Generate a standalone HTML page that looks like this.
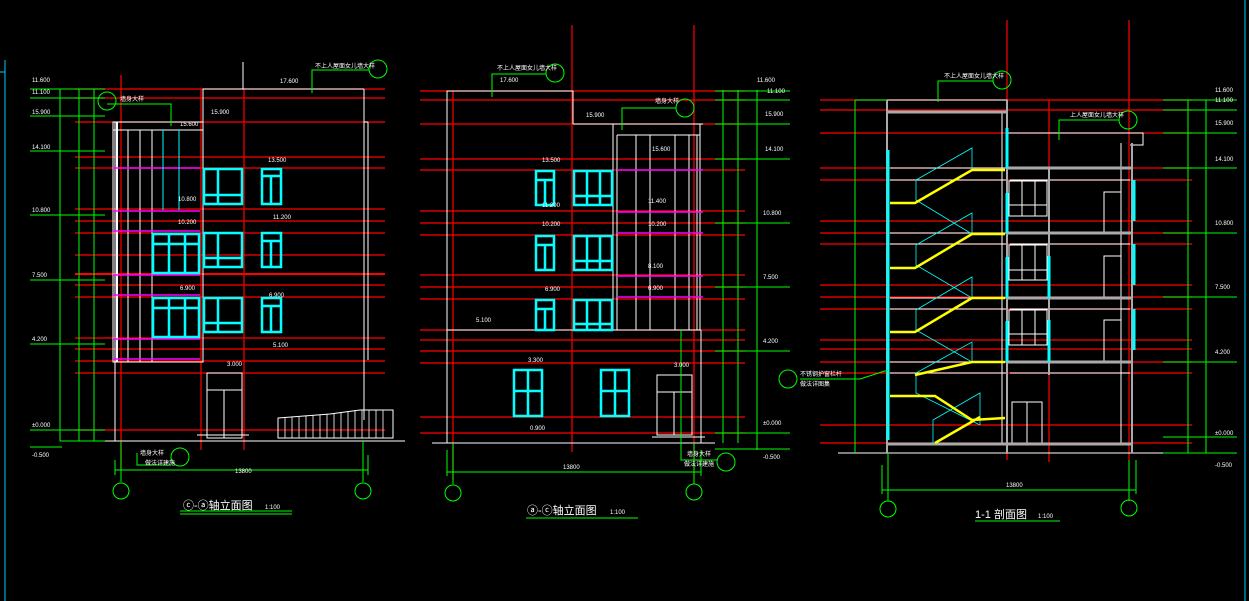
<!DOCTYPE html>
<html><head><meta charset="utf-8"><style>
html,body{margin:0;padding:0;background:#000;width:1249px;height:601px;overflow:hidden}
svg{display:block}
text{font-family:"Liberation Sans","Noto Sans CJK SC",sans-serif;}
</style></head><body>
<svg width="1249" height="601" viewBox="0 0 1249 601" xmlns="http://www.w3.org/2000/svg">
<rect width="1249" height="601" fill="#000"/>
<!-- frame edges -->
<line x1="5" y1="60" x2="5" y2="601" stroke="#0cf" stroke-width="1"/>
<line x1="0" y1="72" x2="5" y2="72" stroke="#0cf"/>
<line x1="1245" y1="0" x2="1245" y2="601" stroke="#0cf" stroke-width="1"/>

<!-- ================= LEFT ELEVATION ================= -->
<g stroke="#f00" stroke-width="1.2">
<line x1="75" y1="89" x2="385" y2="89"/><line x1="75" y1="98" x2="385" y2="98"/>
<line x1="75" y1="122" x2="385" y2="122"/><line x1="75" y1="157" x2="385" y2="157"/>
<line x1="75" y1="168" x2="385" y2="168"/><line x1="75" y1="209" x2="385" y2="209"/>
<line x1="75" y1="221" x2="385" y2="221"/><line x1="75" y1="233" x2="385" y2="233"/>
<line x1="75" y1="255" x2="385" y2="255"/><line x1="75" y1="274" x2="385" y2="274" stroke-width="2"/>
<line x1="75" y1="285" x2="385" y2="285"/><line x1="75" y1="297" x2="385" y2="297"/>
<line x1="75" y1="338" x2="385" y2="338"/><line x1="75" y1="349" x2="385" y2="349"/>
<line x1="75" y1="361" x2="385" y2="361"/><line x1="75" y1="373" x2="385" y2="373"/>
<line x1="75" y1="430" x2="385" y2="430"/>
<line x1="121" y1="75" x2="121" y2="470"/><line x1="201" y1="89" x2="201" y2="450"/>
<line x1="244" y1="89" x2="244" y2="450"/>
</g>
<g stroke="#fff" stroke-width="1" fill="none">
<polyline points="203,122 203,89 243,89 243,62"/>
<line x1="243" y1="89" x2="364" y2="89"/>
<line x1="364" y1="89" x2="364" y2="420"/>
<line x1="364" y1="122" x2="368" y2="122"/><line x1="368" y1="122" x2="368" y2="360"/>
<rect x="113" y="122" width="90" height="240"/>
<line x1="117" y1="122" x2="117" y2="362" stroke-width="2"/>
<line x1="128" y1="130" x2="128" y2="362"/><line x1="140" y1="130" x2="140" y2="362"/>
<line x1="152" y1="130" x2="152" y2="362"/><line x1="113" y1="130" x2="203" y2="130"/>
<line x1="115" y1="122" x2="115" y2="441"/>
<line x1="105" y1="441" x2="405" y2="441"/>
<rect x="207" y="373" width="35" height="65"/>
<line x1="207" y1="390" x2="242" y2="390"/><line x1="224" y1="390" x2="224" y2="438"/>
<line x1="197" y1="435" x2="249" y2="435"/>
<polygon points="278,418 330,414 360,410 393,410 393,438 278,438"/>
</g>
<g stroke="#fff" stroke-width="0.8">
<line x1="285" y1="418" x2="285" y2="438"/><line x1="292" y1="417" x2="292" y2="438"/><line x1="299" y1="417" x2="299" y2="438"/>
<line x1="306" y1="416" x2="306" y2="438"/><line x1="313" y1="415" x2="313" y2="438"/><line x1="320" y1="415" x2="320" y2="438"/>
<line x1="327" y1="414" x2="327" y2="438"/><line x1="334" y1="413" x2="334" y2="438"/><line x1="341" y1="412" x2="341" y2="438"/>
<line x1="348" y1="411" x2="348" y2="438"/><line x1="355" y1="410" x2="355" y2="438"/><line x1="362" y1="410" x2="362" y2="438"/>
<line x1="369" y1="410" x2="369" y2="438"/><line x1="376" y1="410" x2="376" y2="438"/><line x1="383" y1="410" x2="383" y2="438"/>
</g>
<g stroke="#f0f" stroke-width="1.5">
<line x1="113" y1="168" x2="200" y2="168"/><line x1="113" y1="211" x2="200" y2="211"/>
<line x1="113" y1="231" x2="200" y2="231"/><line x1="113" y1="275" x2="200" y2="275"/>
<line x1="113" y1="295" x2="200" y2="295"/><line x1="113" y1="339" x2="200" y2="339"/>
<line x1="113" y1="359" x2="200" y2="359"/>
</g>
<g stroke="#0ff" stroke-width="2.5" fill="none">
<rect x="204" y="169" width="38" height="35"/><line x1="218" y1="169" x2="218" y2="204"/><line x1="204" y1="195" x2="242" y2="195"/>
<rect x="262" y="169" width="19" height="35"/><line x1="271" y1="176" x2="271" y2="204"/><line x1="262" y1="176" x2="281" y2="176"/>
<rect x="204" y="233" width="38" height="34"/><line x1="218" y1="233" x2="218" y2="267"/><line x1="204" y1="258" x2="242" y2="258"/>
<rect x="262" y="233" width="19" height="34"/><line x1="271" y1="241" x2="271" y2="267"/><line x1="262" y1="241" x2="281" y2="241"/>
<rect x="153" y="234" width="46" height="39"/><line x1="169" y1="234" x2="169" y2="273"/><line x1="185" y1="234" x2="185" y2="273"/><line x1="153" y1="244" x2="199" y2="244"/>
<rect x="204" y="298" width="38" height="34"/><line x1="218" y1="298" x2="218" y2="332"/><line x1="204" y1="323" x2="242" y2="323"/>
<rect x="262" y="298" width="19" height="34"/><line x1="271" y1="306" x2="271" y2="332"/><line x1="262" y1="306" x2="281" y2="306"/>
<rect x="153" y="298" width="46" height="39"/><line x1="169" y1="298" x2="169" y2="337"/><line x1="185" y1="298" x2="185" y2="337"/><line x1="153" y1="308" x2="199" y2="308"/>
<line x1="163" y1="130" x2="163" y2="210" stroke-width="1"/><line x1="179" y1="130" x2="179" y2="210" stroke-width="1"/>
</g>
<g stroke="#0f0" stroke-width="1" fill="none">
<line x1="60" y1="89" x2="60" y2="441"/><line x1="79" y1="89" x2="79" y2="441"/><line x1="94" y1="89" x2="94" y2="441"/>
<line x1="30" y1="89" x2="105" y2="89"/><line x1="30" y1="98" x2="105" y2="98"/><line x1="30" y1="116" x2="105" y2="116"/>
<line x1="30" y1="151" x2="105" y2="151"/><line x1="30" y1="215" x2="105" y2="215"/><line x1="30" y1="280" x2="105" y2="280"/>
<line x1="30" y1="344" x2="105" y2="344"/><line x1="30" y1="430" x2="105" y2="430"/><line x1="30" y1="447" x2="62" y2="447"/>
<line x1="60" y1="441" x2="105" y2="441"/>
<line x1="115" y1="470" x2="368" y2="470"/><line x1="115" y1="460" x2="115" y2="475"/><line x1="368" y1="455" x2="368" y2="475"/>
<line x1="121" y1="441" x2="121" y2="482"/><line x1="363" y1="441" x2="363" y2="482"/>
<circle cx="121" cy="491" r="8"/><circle cx="363" cy="491" r="8"/>
<circle cx="107" cy="101" r="9"/><polyline points="107,104 171,104 171,126"/>
<circle cx="180" cy="457" r="9"/><polyline points="137,453 137,465 171,465"/>
<circle cx="378" cy="69" r="9"/><polyline points="312,93 312,70 369,70"/>
<line x1="180" y1="514" x2="292" y2="514"/><line x1="180" y1="511" x2="292" y2="511"/>
</g>
<g fill="#fff" font-size="6">
<text x="32" y="82">11.600</text><text x="32" y="94">11.100</text><text x="32" y="114">15.900</text><text x="32" y="149">14.100</text>
<text x="32" y="212">10.800</text><text x="32" y="277">7.500</text><text x="32" y="341">4.200</text><text x="32" y="427">±0.000</text><text x="32" y="457">-0.500</text>
<text x="280" y="83">17.600</text><text x="211" y="114">15.900</text><text x="180" y="126">15.600</text><text x="268" y="162">13.500</text>
<text x="178" y="201">10.800</text><text x="273" y="219">11.200</text><text x="178" y="224">10.200</text><text x="269" y="297">6.900</text>
<text x="180" y="290">6.900</text><text x="273" y="347">5.100</text><text x="227" y="366">3.000</text><text x="235" y="473">13800</text>
<text x="315" y="68">不上人屋面女儿墙大样</text><text x="120" y="101">墙身大样</text><text x="140" y="455">墙身大样</text><text x="145" y="465">做法详建施</text>
</g>
<g fill="#fff" font-size="11"><text x="183" y="509">ⓒ-ⓐ轴立面图</text><text x="265" y="509" font-size="6">1:100</text></g>

<!-- ================= MIDDLE ELEVATION ================= -->
<g stroke="#f00" stroke-width="1.2">
<line x1="420" y1="91" x2="745" y2="91"/><line x1="420" y1="100" x2="745" y2="100"/><line x1="420" y1="124" x2="745" y2="124"/>
<line x1="420" y1="159" x2="745" y2="159"/><line x1="420" y1="170" x2="745" y2="170"/><line x1="420" y1="211" x2="745" y2="211"/>
<line x1="420" y1="223" x2="745" y2="223"/><line x1="420" y1="235" x2="745" y2="235"/><line x1="420" y1="275" x2="745" y2="275"/>
<line x1="420" y1="287" x2="745" y2="287"/><line x1="420" y1="299" x2="745" y2="299"/><line x1="420" y1="330" x2="745" y2="330"/>
<line x1="420" y1="340" x2="745" y2="340"/><line x1="420" y1="351" x2="745" y2="351"/><line x1="420" y1="363" x2="745" y2="363"/>
<line x1="420" y1="417" x2="745" y2="417"/><line x1="420" y1="433" x2="745" y2="433"/>
<line x1="572" y1="25" x2="572" y2="452"/><line x1="694" y1="25" x2="694" y2="470"/><line x1="453" y1="91" x2="453" y2="480"/>
</g>
<g stroke="#fff" stroke-width="1" fill="none">
<polyline points="447,443 447,91 573,91 573,124"/>
<line x1="573" y1="124" x2="703" y2="124"/>
<rect x="613" y="124" width="87" height="206"/>
<line x1="617" y1="135" x2="700" y2="135"/><line x1="617" y1="135" x2="617" y2="330"/>
<line x1="636" y1="135" x2="636" y2="330"/><line x1="650" y1="135" x2="650" y2="330"/><line x1="675" y1="135" x2="675" y2="330"/>
<line x1="689" y1="135" x2="689" y2="330"/><line x1="697" y1="135" x2="697" y2="330"/>
<line x1="447" y1="330" x2="701" y2="330"/><line x1="701" y1="330" x2="701" y2="443"/>
<line x1="432" y1="443" x2="715" y2="443"/>
<rect x="657" y="375" width="35" height="60"/><line x1="657" y1="392" x2="692" y2="392"/><line x1="674" y1="392" x2="674" y2="435"/>
<line x1="652" y1="437" x2="705" y2="437"/>
</g>
<g stroke="#f0f" stroke-width="1.5">
<line x1="617" y1="170" x2="703" y2="170"/><line x1="617" y1="212" x2="703" y2="212"/><line x1="617" y1="233" x2="703" y2="233"/>
<line x1="617" y1="276" x2="703" y2="276"/><line x1="617" y1="297" x2="703" y2="297"/>
</g>
<g stroke="#0ff" stroke-width="2.5" fill="none">
<rect x="536" y="171" width="18" height="34"/><line x1="545" y1="180" x2="545" y2="205"/><line x1="536" y1="180" x2="554" y2="180"/>
<rect x="574" y="171" width="38" height="34"/><line x1="587" y1="171" x2="587" y2="205"/><line x1="600" y1="171" x2="600" y2="205"/><line x1="574" y1="196" x2="612" y2="196"/>
<rect x="536" y="236" width="18" height="34"/><line x1="545" y1="245" x2="545" y2="270"/><line x1="536" y1="245" x2="554" y2="245"/>
<rect x="574" y="236" width="38" height="34"/><line x1="587" y1="236" x2="587" y2="270"/><line x1="600" y1="236" x2="600" y2="270"/><line x1="574" y1="261" x2="612" y2="261"/>
<rect x="536" y="300" width="18" height="30"/><line x1="545" y1="309" x2="545" y2="330"/><line x1="536" y1="309" x2="554" y2="309"/>
<rect x="574" y="300" width="38" height="30"/><line x1="587" y1="300" x2="587" y2="330"/><line x1="600" y1="300" x2="600" y2="330"/><line x1="574" y1="324" x2="612" y2="324"/>
<rect x="514" y="370" width="28" height="46"/><line x1="528" y1="370" x2="528" y2="416"/><line x1="514" y1="391" x2="542" y2="391"/>
<rect x="601" y="370" width="28" height="46"/><line x1="615" y1="370" x2="615" y2="416"/><line x1="601" y1="391" x2="629" y2="391"/>
</g>
<g stroke="#0f0" stroke-width="1" fill="none">
<line x1="723" y1="90" x2="723" y2="443"/><line x1="738" y1="90" x2="738" y2="443"/><line x1="757" y1="90" x2="757" y2="450"/>
<line x1="715" y1="91" x2="790" y2="91"/><line x1="715" y1="100" x2="790" y2="100"/><line x1="715" y1="124" x2="790" y2="124"/>
<line x1="715" y1="159" x2="790" y2="159"/><line x1="715" y1="223" x2="790" y2="223"/><line x1="715" y1="287" x2="790" y2="287"/>
<line x1="715" y1="351" x2="790" y2="351"/><line x1="715" y1="433" x2="790" y2="433"/><line x1="715" y1="449" x2="790" y2="449"/>
<line x1="447" y1="472" x2="701" y2="472"/><line x1="447" y1="450" x2="447" y2="476"/><line x1="701" y1="450" x2="701" y2="476"/>
<line x1="453" y1="443" x2="453" y2="484"/><line x1="694" y1="443" x2="694" y2="484"/>
<circle cx="453" cy="493" r="8"/><circle cx="694" cy="492" r="8"/>
<circle cx="555" cy="73" r="9"/><polyline points="492,97 492,74 546,74"/>
<circle cx="685" cy="108" r="9"/><polyline points="622,130 622,108 676,108"/>
<circle cx="726" cy="462" r="9"/><polyline points="681,330 681,460 717,460"/>
<circle cx="788" cy="379" r="9"/>
<line x1="526" y1="518" x2="638" y2="518"/>
</g>
<g fill="#fff" font-size="6">
<text x="757" y="82">11.600</text><text x="767" y="93">11.100</text><text x="765" y="116">15.900</text><text x="765" y="151">14.100</text>
<text x="763" y="215">10.800</text><text x="763" y="279">7.500</text><text x="763" y="343">4.200</text><text x="763" y="425">±0.000</text><text x="763" y="459">-0.500</text>
<text x="500" y="82">17.600</text><text x="586" y="117">15.900</text><text x="652" y="151">15.600</text><text x="542" y="162">13.500</text>
<text x="648" y="203">11.400</text><text x="542" y="207">11.200</text><text x="648" y="226">10.200</text><text x="542" y="226">10.200</text>
<text x="648" y="268">8.100</text><text x="648" y="290">6.900</text><text x="545" y="291">6.900</text><text x="476" y="322">5.100</text>
<text x="528" y="362">3.300</text><text x="674" y="367">3.000</text><text x="530" y="430">0.900</text><text x="563" y="469">13800</text>
<text x="497" y="70">不上人屋面女儿墙大样</text><text x="655" y="103">墙身大样</text><text x="687" y="456">墙身大样</text><text x="684" y="466">做法详建施</text>
</g>
<g fill="#fff" font-size="11"><text x="527" y="514">ⓐ-ⓒ轴立面图</text><text x="610" y="514" font-size="6">1:100</text></g>

<!-- ================= SECTION ================= -->
<g stroke="#f00" stroke-width="1.2">
<line x1="820" y1="100" x2="1192" y2="100"/><line x1="820" y1="110" x2="1192" y2="110"/><line x1="820" y1="133" x2="1192" y2="133"/>
<line x1="820" y1="168" x2="1192" y2="168"/><line x1="820" y1="180" x2="1192" y2="180"/><line x1="820" y1="221" x2="1192" y2="221"/>
<line x1="820" y1="233" x2="1192" y2="233"/><line x1="820" y1="244" x2="1192" y2="244"/><line x1="820" y1="285" x2="1192" y2="285"/>
<line x1="820" y1="297" x2="1192" y2="297"/><line x1="820" y1="309" x2="1192" y2="309"/><line x1="820" y1="340" x2="1192" y2="340"/>
<line x1="820" y1="349" x2="1192" y2="349"/><line x1="820" y1="362" x2="1192" y2="362"/><line x1="820" y1="373" x2="1192" y2="373"/>
<line x1="820" y1="425" x2="1192" y2="425"/><line x1="820" y1="443" x2="1192" y2="443"/>
<line x1="1007" y1="20" x2="1007" y2="460"/><line x1="1049" y1="100" x2="1049" y2="462"/><line x1="1129" y1="20" x2="1129" y2="460"/>
</g>
<g stroke="#fff" stroke-width="1" fill="none">
<rect x="887" y="100" width="120" height="12"/>
<line x1="838" y1="453" x2="1163" y2="453"/>
<line x1="890" y1="168" x2="1007" y2="168"/><line x1="890" y1="180" x2="1007" y2="180"/>
<line x1="890" y1="233" x2="1007" y2="233"/><line x1="890" y1="244" x2="1007" y2="244"/>
<line x1="890" y1="298" x2="1007" y2="298"/><line x1="890" y1="309" x2="1007" y2="309"/>
<line x1="890" y1="362" x2="1007" y2="362"/><line x1="890" y1="373" x2="1007" y2="373"/>
<line x1="1002" y1="112" x2="1002" y2="443"/>
<line x1="1007" y1="133" x2="1143" y2="133"/><polyline points="1130,133 1143,133 1143,145 1130,145"/>
<line x1="1121" y1="143" x2="1121" y2="443"/>
<line x1="1010" y1="180" x2="1130" y2="180"/><line x1="1010" y1="244" x2="1130" y2="244"/><line x1="1010" y1="309" x2="1130" y2="309"/><line x1="1010" y1="373" x2="1130" y2="373"/>
<rect x="1009" y="181" width="38" height="35"/><line x1="1022" y1="181" x2="1022" y2="216"/><line x1="1035" y1="181" x2="1035" y2="216"/><line x1="1009" y1="205" x2="1047" y2="205"/>
<rect x="1009" y="245" width="38" height="35"/><line x1="1022" y1="245" x2="1022" y2="280"/><line x1="1035" y1="245" x2="1035" y2="280"/><line x1="1009" y1="270" x2="1047" y2="270"/>
<rect x="1009" y="310" width="38" height="35"/><line x1="1022" y1="310" x2="1022" y2="345"/><line x1="1035" y1="310" x2="1035" y2="345"/><line x1="1009" y1="334" x2="1047" y2="334"/>
<polyline points="1104,233 1104,192 1121,192"/><polyline points="1104,297 1104,256 1121,256"/><polyline points="1104,362 1104,320 1121,320"/>
<rect x="1012" y="402" width="30" height="41"/><line x1="1027" y1="402" x2="1027" y2="443"/>
</g>
<g stroke="#aaa" stroke-width="3" fill="none">
<line x1="887" y1="112" x2="1007" y2="112"/>
<line x1="1007" y1="168" x2="1132" y2="168"/><line x1="1007" y1="233" x2="1132" y2="233"/>
<line x1="1007" y1="298" x2="1132" y2="298"/><line x1="1007" y1="362" x2="1132" y2="362"/>
<line x1="887" y1="444" x2="1132" y2="444"/>
<line x1="887" y1="100" x2="887" y2="453" stroke-width="2"/><line x1="1007" y1="100" x2="1007" y2="453" stroke-width="2"/>
<line x1="1049" y1="168" x2="1049" y2="375" stroke-width="2"/><line x1="1132" y1="143" x2="1132" y2="453" stroke-width="2"/>
</g>
<g stroke="#0ff" stroke-width="3">
<line x1="888" y1="150" x2="888" y2="440"/><line x1="1007" y1="128" x2="1007" y2="168"/><line x1="1007" y1="193" x2="1007" y2="233"/>
<line x1="1007" y1="257" x2="1007" y2="298"/><line x1="1007" y1="321" x2="1007" y2="362"/>
<line x1="1049" y1="256" x2="1049" y2="298"/><line x1="1049" y1="320" x2="1049" y2="362"/>
<line x1="1134" y1="180" x2="1134" y2="221"/><line x1="1134" y1="244" x2="1134" y2="285"/><line x1="1134" y1="309" x2="1134" y2="350"/>
</g>
<g stroke="#0ff" stroke-width="0.8" fill="none">
<polyline points="916,180 972,148 972,170"/><polyline points="916,180 916,200 972,234"/>
<polyline points="916,245 972,213 972,234"/><polyline points="916,245 916,265 972,298"/>
<polyline points="916,310 972,277 972,298"/><polyline points="916,310 916,330 972,362"/>
<polyline points="916,373 972,342 972,362"/><polyline points="916,373 916,393 980,425"/>
<polyline points="933,443 933,420 980,393 980,425"/>
</g>
<g stroke="#ff0" stroke-width="2.5" fill="none">
<polyline points="890,203 915,203 972,170 1005,170"/><polyline points="890,268 915,268 972,234 1005,234"/>
<polyline points="890,332 915,332 972,298 1005,298"/><polyline points="890,396 935,396 972,420 1005,418"/>
<polyline points="935,443 980,417"/>
<polyline points="915,375 972,362 1005,362"/>
</g>
<g stroke="#0f0" stroke-width="1" fill="none">
<line x1="855" y1="100" x2="855" y2="453"/><line x1="855" y1="100" x2="887" y2="100"/>
<line x1="1188" y1="100" x2="1188" y2="453"/><line x1="1206" y1="100" x2="1206" y2="453"/>
<line x1="1163" y1="100" x2="1237" y2="100"/><line x1="1163" y1="110" x2="1237" y2="110"/><line x1="1163" y1="133" x2="1237" y2="133"/>
<line x1="1163" y1="168" x2="1237" y2="168"/><line x1="1163" y1="233" x2="1237" y2="233"/><line x1="1163" y1="297" x2="1237" y2="297"/>
<line x1="1163" y1="362" x2="1237" y2="362"/><line x1="1163" y1="437" x2="1237" y2="437"/><line x1="1163" y1="453" x2="1237" y2="453"/>
<line x1="882" y1="490" x2="1136" y2="490"/><line x1="882" y1="465" x2="882" y2="494"/><line x1="1136" y1="460" x2="1136" y2="494"/>
<line x1="888" y1="453" x2="888" y2="501"/><line x1="1129" y1="460" x2="1129" y2="501"/>
<circle cx="888" cy="509" r="8"/><circle cx="1129" cy="508" r="8"/>
<circle cx="1002" cy="80" r="9"/><polyline points="938,102 938,81 993,81"/>
<circle cx="1128" cy="120" r="9"/><polyline points="1059,140 1059,120 1119,120"/>
<polyline points="800,379 860,379 888,370"/>
<line x1="975" y1="521" x2="1060" y2="521"/>
</g>
<g fill="#fff" font-size="6">
<text x="1215" y="92">11.600</text><text x="1215" y="102">11.100</text><text x="1215" y="125">15.900</text><text x="1215" y="161">14.100</text>
<text x="1215" y="225">10.800</text><text x="1215" y="289">7.500</text><text x="1215" y="354">4.200</text><text x="1215" y="435">±0.000</text><text x="1215" y="467">-0.500</text>
<text x="944" y="78">不上人屋面女儿墙大样</text><text x="1070" y="117">上人屋面女儿墙大样</text>
<text x="800" y="376">不锈钢护窗栏杆</text><text x="800" y="386">做法详图集</text><text x="1006" y="487">13800</text>
</g>
<g fill="#fff" font-size="11"><text x="975" y="518">1-1  剖面图</text><text x="1038" y="518" font-size="6">1:100</text></g>
</svg>
</body></html>
